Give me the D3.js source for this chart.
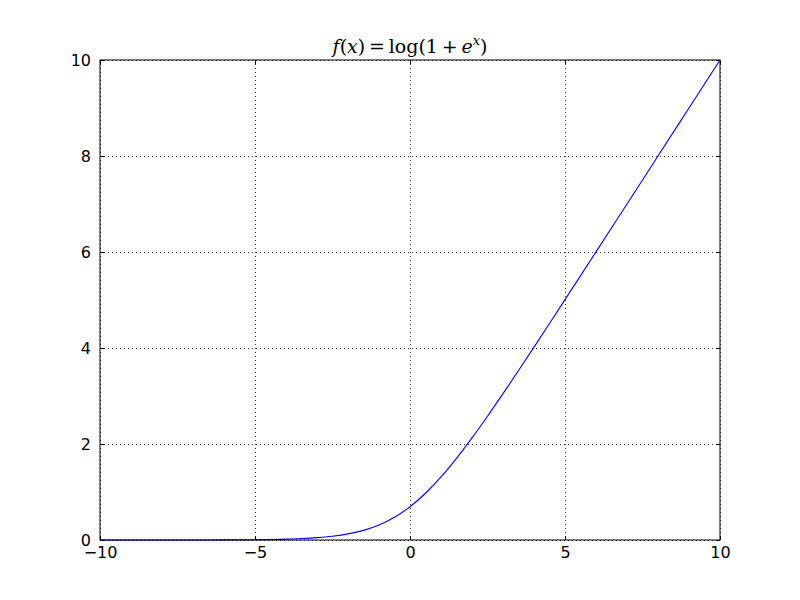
<!DOCTYPE html>
<html><head><meta charset="utf-8">
<script src="https://cdn.jsdelivr.net/npm/d3@7"></script>
<style>body{margin:0;background:#fff}svg{display:block}</style>
</head><body>
<script>
// Data
const xValues = [-10,-9,-8,-7,-6,-5,-4,-3.5,-3,-2.5,-2,-1.5,-1,-0.5,0,0.5,1,1.5,2,2.5,3,3.5,4,4.5,5,6,7,8,9,10];
const yValues = [0.00005,0.0001,0.0003,0.0009,0.0025,0.0067,0.018,0.030,0.049,0.079,0.127,0.201,0.313,0.474,0.693,0.974,1.313,1.701,2.127,2.579,3.049,3.530,4.018,4.511,5.007,6.002,7.001,8.000,9.000,10.000];
const xTicks = [-10,-5,0,5,10];
const yTicks = [0,2,4,6,8,10];

const W=800,H=600;
const m={l:100,r:80,t:60,b:60};
const svg=d3.select("body").append("svg").attr("width",W).attr("height",H);
const x=d3.scaleLinear().domain([-10,10]).range([m.l,W-m.r]);
const y=d3.scaleLinear().domain([0,10]).range([H-m.b,m.t]);

// grid
const g=svg.append("g");
g.selectAll(".gx").data(xTicks).join("line")
 .attr("x1",d=>Math.round(x(d))+0.5).attr("x2",d=>Math.round(x(d))+0.5)
 .attr("y1",m.t).attr("y2",H-m.b)
 .attr("stroke","#000").attr("stroke-width",0.8).attr("stroke-dasharray","1,3");
g.selectAll(".gy").data(yTicks).join("line")
 .attr("y1",d=>Math.round(y(d))+0.5).attr("y2",d=>Math.round(y(d))+0.5)
 .attr("x1",m.l).attr("x2",W-m.r)
 .attr("stroke","#000").attr("stroke-width",0.8).attr("stroke-dasharray","1,3");

// curve
const line=d3.line().x((d,i)=>x(xValues[i])).y(d=>y(d)).curve(d3.curveMonotoneX);
svg.append("path").datum(yValues).attr("d",line)
 .attr("fill","none").attr("stroke","#0000ff").attr("stroke-width",1.1);

// axes with inward ticks
const fmt=d=>d<0?"\u2212"+Math.abs(d):String(d);
const font="'DejaVu Sans'";
const ax=svg.append("g").attr("transform",`translate(0,${H-m.b})`)
 .call(d3.axisBottom(x).tickValues(xTicks).tickSize(-4).tickPadding(7).tickFormat(fmt));
const axT=svg.append("g").attr("transform",`translate(0,${m.t})`)
 .call(d3.axisTop(x).tickValues(xTicks).tickSize(-4).tickFormat(""));
const ay=svg.append("g").attr("transform",`translate(${m.l},0)`)
 .call(d3.axisLeft(y).tickValues(yTicks).tickSize(-4).tickPadding(9).tickFormat(fmt));
const ayR=svg.append("g").attr("transform",`translate(${W-m.r},0)`)
 .call(d3.axisRight(y).tickValues(yTicks).tickSize(-4).tickFormat(""));
[ax,axT,ay,ayR].forEach(a=>{
  a.select(".domain").remove();
  a.selectAll("line").attr("stroke","#000").attr("stroke-width",1);
  a.selectAll("text").attr("font-family",font).attr("font-size",16).attr("fill","#000");
});
ax.selectAll("text").attr("dy","0.71em");

// frame
svg.append("rect").attr("x",m.l).attr("y",m.t).attr("width",W-m.l-m.r).attr("height",H-m.t-m.b)
 .attr("fill","none").attr("stroke","#000").attr("stroke-width",1);

// title
const t=svg.append("text").attr("x",(m.l+W-m.r)/2).attr("y",53).attr("text-anchor","middle")
 .attr("font-family","'DejaVu Serif'").attr("font-size",19).attr("fill","#000");
t.append("tspan").attr("font-style","italic").text("f");
t.append("tspan").text("(");
t.append("tspan").attr("font-style","italic").text("x");
t.append("tspan").text(")\u2009=\u2009log(1\u2009+\u2009");
t.append("tspan").attr("font-style","italic").text("e");
t.append("tspan").attr("font-style","italic").attr("font-size",13).attr("dy",-8).text("x");
t.append("tspan").attr("dy",8).text(")");
</script>
</body></html>
